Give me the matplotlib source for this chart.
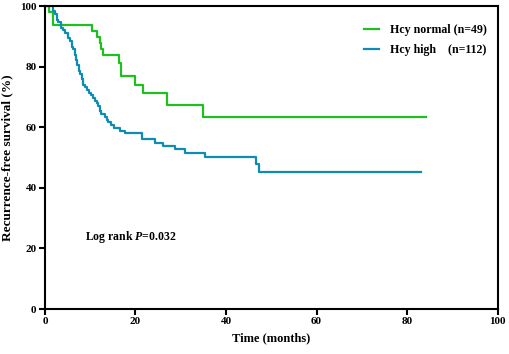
import matplotlib.pyplot as plt

plt.rcParams['font.family'] = ['Liberation Serif', 'DejaVu Serif']
plt.rcParams['font.weight'] = 'bold'
plt.rcParams['mathtext.fontset'] = 'custom'
plt.rcParams['mathtext.bfit'] = 'Liberation Serif:italic:bold'
plt.rcParams['mathtext.rm'] = 'Liberation Serif:bold'

# Kaplan-Meier step points (time in months, survival in %)
normal_time = [0, 1.0, 1.7, 10.5, 11.6, 12.2, 12.5, 12.9, 16.4, 16.9, 19.9, 21.7, 26.9, 35.0, 84.1]
normal_surv = [100, 98.0, 93.9, 91.8, 89.8, 87.8, 85.7, 83.7, 81.3, 76.8, 74.1, 71.2, 67.5, 63.3, 63.3]

high_time = [0, 1.9, 2.3, 2.7, 3.0, 3.5, 4.0, 4.5, 5.0, 5.5, 6.0, 6.3, 6.6, 6.9, 7.2,
             7.5, 7.8, 8.1, 8.5, 8.9, 9.3, 9.7, 10.2, 10.6, 11.0, 11.4, 11.8, 12.1,
             12.5, 13.2, 13.7, 14.0, 14.6, 15.2, 16.5, 17.7, 21.5, 24.3, 26.1, 28.7,
             31.0, 35.3, 46.6, 47.3, 83.0]
high_surv = [100, 98.2, 97.3, 95.5, 94.6, 92.9, 92.0, 91.1, 89.3, 88.4, 86.6, 85.7, 83.9,
             82.1, 80.4, 78.6, 77.7, 75.9, 74.1, 73.2, 72.3, 71.4, 70.5, 69.6, 68.8, 67.9,
             67.0, 65.2, 64.3, 63.4, 62.5, 61.6, 60.7, 59.8, 58.9, 58.0, 56.0, 54.9, 53.9,
             52.7, 51.5, 50.2, 47.7, 45.2, 45.2]

fig = plt.figure(figsize=(5.1, 3.54), dpi=100)
ax = fig.add_axes([0.088, 0.127, 0.888, 0.856])

ax.step(normal_time, normal_surv, where='post', color='#1fbf1f', lw=1.6,
        label='Hcy normal (n=49)')
ax.step(high_time, high_surv, where='post', color='#0e8db4', lw=1.6,
        label='Hcy high    (n=112)')

ax.set_xlim(0, 100)
ax.set_ylim(0, 100)
ax.set_xticks(range(0, 101, 20))
ax.set_yticks(range(0, 101, 20))
ax.tick_params(direction='out', length=4, width=1.5, labelsize=8, pad=2)
for s in ax.spines.values():
    s.set_linewidth(1.5)

ax.set_xlabel('Time (months)', fontsize=9, fontweight='bold', labelpad=4)
ax.set_ylabel('Recurrence-free survival (%)', fontsize=9.5, fontweight='bold', labelpad=5)

ax.text(8.8, 23.8, r'Log rank $\mathbfit{P}$=0.032', fontsize=8.5, fontweight='bold',
        va='center', ha='left')

ax.legend(loc='upper right', bbox_to_anchor=(1.0, 0.975), frameon=False, fontsize=8.6,
          handlelength=1.25, handletextpad=0.9, labelspacing=0.65)

fig.savefig('out.png', dpi=100)
